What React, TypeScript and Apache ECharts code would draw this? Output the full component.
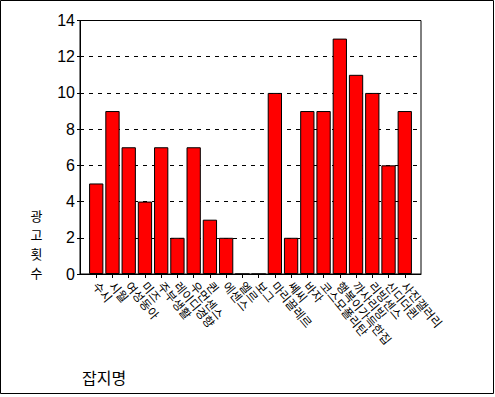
import React, { useEffect, useRef } from "react";
import * as echarts from "echarts";

const categories: string[] = [
  "수시", "시월", "여성동아", "미즈", "주부생활", "레이디경향", "우먼센스", "퀸", "에센스", "엘르",
  "보그", "마리끌레르", "쎄씨", "바자", "코스모폴리탄", "행복이가득한집", "까사리빙", "리빙센스", "신디더퀸", "사진갤러리",
];
const adCounts: number[] = [5, 9, 7, 4, 7, 2, 7, 3, 2, 0, 0, 10, 2, 9, 9, 13, 11, 10, 6, 9];
const yTicks: number[] = [0, 2, 4, 6, 8, 10, 12, 14];
const yTitleChars: string[] = ["광", "고", "횟", "수"];

export default function App() {
  const ref = useRef<HTMLDivElement>(null);
  useEffect(() => {
    if (!ref.current) return;
    const chart = echarts.init(ref.current, undefined, { renderer: "svg" });
    const cats = ["", ...categories, ""];
    const vals: (number | string)[] = ["-", ...adCounts, "-"];
    const last = cats.length - 1;
    chart.setOption({
      animation: false,
      backgroundColor: "#ffffff",
      grid: {
        left: 80,
        top: 20.5,
        width: 341,
        height: 253.5,
        show: true,
        borderColor: "#000",
        borderWidth: 1,
        backgroundColor: "transparent",
      },
      xAxis: {
        type: "category",
        data: cats,
        boundaryGap: false,
        axisLine: { lineStyle: { color: "#000", width: 1 } },
        axisTick: {
          show: true,
          length: 4,
          lineStyle: { color: "#000" },
          interval: (i: number) => i > 0 && i < last,
        },
        axisLabel: {
          interval: (i: number) => i > 0 && i < last,
          rotate: -50,
          margin: 9,
          color: "#000",
          fontSize: 12,
          fontFamily: "Noto Sans CJK KR",
        },
        splitLine: { show: false },
      },
      yAxis: {
        type: "value",
        min: yTicks[0],
        max: yTicks[yTicks.length - 1],
        interval: 2,
        axisLine: { show: true, lineStyle: { color: "#000", width: 1 } },
        axisTick: { show: true, length: 3, lineStyle: { color: "#000" } },
        axisLabel: {
          color: "#000",
          fontSize: 16,
          margin: 5,
          fontFamily: "Liberation Sans",
        },
        splitLine: {
          show: true,
          lineStyle: { color: "#000", type: [4, 5], width: 1 },
        },
      },
      series: [
        {
          type: "bar",
          data: vals,
          barWidth: 14.3,
          itemStyle: { color: "#ff0000", borderColor: "#000", borderWidth: 1 },
        },
      ],
      graphic: [
        {
          type: "rect",
          shape: { x: 0.5, y: 0.5, width: 493, height: 393 },
          style: { fill: "none", stroke: "#000", lineWidth: 1 },
          silent: true,
        },
        ...yTitleChars.map((ch, i) => ({
          type: "text",
          x: 36.5,
          y: 215 + i * 19,
          style: {
            text: ch,
            font: '13px "Noto Sans CJK KR"',
            fill: "#000",
            textAlign: "center",
            textVerticalAlign: "middle",
          },
        })),
        {
          type: "text",
          x: 82,
          y: 376.5,
          style: {
            text: "잡지명",
            font: '16px "Noto Sans CJK KR"',
            fill: "#000",
            textAlign: "left",
            textVerticalAlign: "middle",
          },
        },
      ],
    });
    return () => chart.dispose();
  }, []);
  return (
    <div
      ref={ref}
      style={{ position: "fixed", left: 0, top: 0, width: 495, height: 397 }}
    />
  );
}
